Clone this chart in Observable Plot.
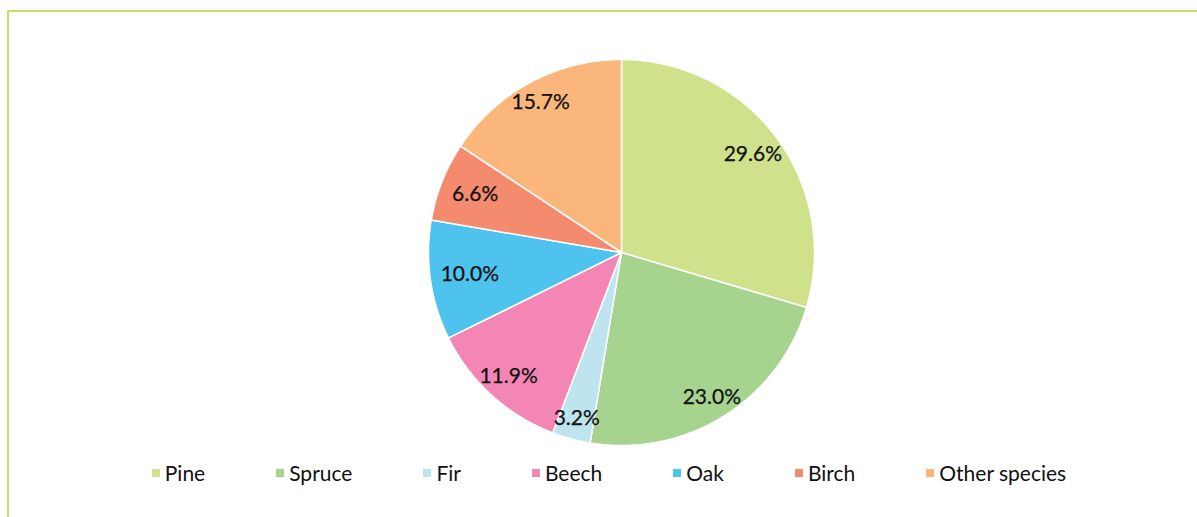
<!DOCTYPE html>
<html><head><meta charset="utf-8">
<script src="https://cdn.jsdelivr.net/npm/d3@7"></script>
<script src="https://cdn.jsdelivr.net/npm/@observablehq/plot@0.6"></script>
<style>
html,body{margin:0;padding:0;background:#fff;overflow:hidden;width:1197px;height:517px;font-family:Lato,sans-serif;}
#frame{position:absolute;left:7px;top:10px;width:1300px;height:600px;border-left:2px solid #c8dc68;border-top:2px solid #c8dc68;}
#chart{position:absolute;left:0;top:0;}
#legend{position:absolute;left:0;top:460px;width:1218px;display:flex;justify-content:center;column-gap:71px;font-size:21px;line-height:25px;color:#111;}
.item{display:flex;align-items:center;}
.sw{width:8px;height:8px;margin-right:5px;}
</style></head><body>
<div id="frame"></div>
<div id="chart"></div>
<div id="legend"></div>
<script>
const species = ["Pine","Spruce","Fir","Beech","Oak","Birch","Other species"];
const shares = [29.6, 23.0, 3.2, 11.9, 10.0, 6.6, 15.7];
const labels = ["29.6%","23.0%","3.2%","11.9%","10.0%","6.6%","15.7%"];
const colors = ["#cfe18b","#a6d38e","#bde4ef","#f386b4","#4ec3ed","#f58b6e","#fbb77b"];

const total = d3.sum(shares);
let acc = 0;
const features = [];
const labelData = [];
species.forEach((name, i) => {
  const a0 = acc / total * 2 * Math.PI;
  acc += shares[i];
  const a1 = acc / total * 2 * Math.PI;
  const n = Math.max(2, Math.ceil((a1 - a0) / (Math.PI / 360)));
  const ring = [[0, 0]];
  for (let k = 0; k <= n; k++) {
    const a = a0 + (a1 - a0) * k / n;
    ring.push([Math.sin(a), Math.cos(a)]);
  }
  ring.push([0, 0]);
  features.push({type: "Feature", properties: {name}, geometry: {type: "Polygon", coordinates: [ring]}});
  const am = (a0 + a1) / 2;
  // inside-end placement: pull labels in where the text box is wide relative to the radial direction
  const r = 0.89 - 0.1 * Math.pow(Math.abs(Math.sin(am)), 4);
  labelData.push({x: r * Math.sin(am), y: r * Math.cos(am), label: labels[i]});
});

const chart = Plot.plot({
  width: 1197,
  height: 455,
  marginTop: 59,
  marginBottom: 10,
  marginLeft: 428,
  marginRight: 383,
  style: {background: "transparent", fontFamily: "Lato, sans-serif"},
  projection: {type: "reflect-y", domain: {type: "MultiPoint", coordinates: [[-1, -1], [1, 1]]}},
  color: {domain: species, range: colors},
  marks: [
    Plot.geo({type: "FeatureCollection", features}, {fill: d => d.properties.name, stroke: "white", strokeWidth: 1.5}),
    Plot.text(labelData, {x: "x", y: "y", text: "label", fontSize: 21, fill: "#111", stroke: "#111", strokeWidth: 0.25})
  ]
});
document.getElementById("chart").appendChild(chart);

const legend = document.getElementById("legend");
species.forEach((name, i) => {
  const it = document.createElement("div");
  it.className = "item";
  const sw = document.createElement("span");
  sw.className = "sw";
  sw.style.background = colors[i];
  const tx = document.createElement("span");
  tx.textContent = name;
  it.appendChild(sw); it.appendChild(tx);
  legend.appendChild(it);
});
</script>
</body></html>
